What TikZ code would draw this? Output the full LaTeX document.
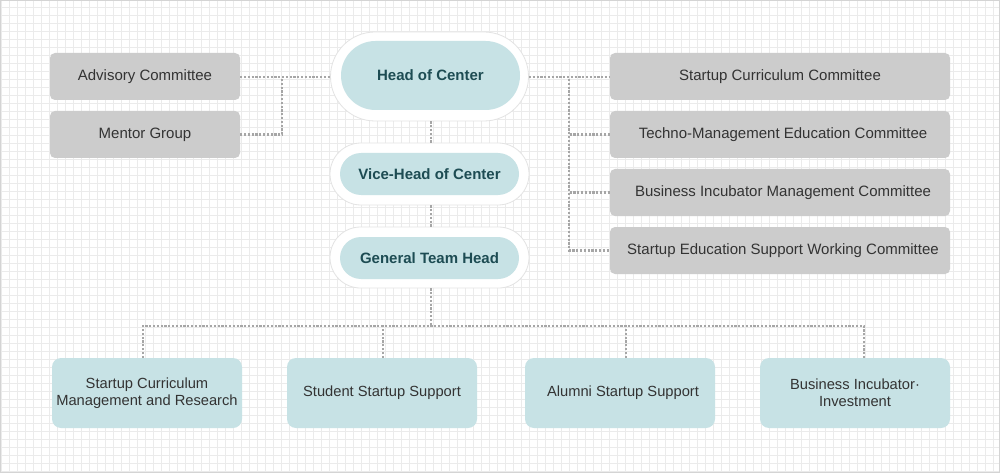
\documentclass[tikz,border=0pt]{standalone}
\usepackage{fontspec}
\setmainfont{Liberation Sans}
\usetikzlibrary{calc}
\definecolor{gridc}{HTML}{EBEBEB}
\definecolor{framec}{HTML}{D4D4D4}
\definecolor{tealfill}{HTML}{C7E2E5}
\definecolor{tealtext}{HTML}{1D4C53}
\definecolor{grayfill}{HTML}{CCCCCC}
\definecolor{graytext}{HTML}{333333}
\definecolor{pillborder}{HTML}{E3E3E3}
\definecolor{connc}{HTML}{A6A6A6}
\tikzset{
  outerpill/.style={draw=pillborder, line width=0.8pt, fill=white, inner sep=0pt},
  innerpill/.style={fill=tealfill, inner sep=0pt, text=tealtext,
    font=\fontsize{15}{18}\selectfont\bfseries},
  graybox/.style={fill=grayfill, rounded corners=5pt, inner sep=0pt,
    minimum height=47pt, text=graytext, font=\fontsize{15}{18}\selectfont},
  tealbox/.style={fill=tealfill, rounded corners=9pt, inner sep=0pt,
    minimum width=190pt, minimum height=70pt, text=graytext, align=center,
    font=\fontsize{14.7}{17}\selectfont},
  conn/.style={draw=connc, line width=2.2pt, dash pattern=on 2.2pt off 1.6pt}
}
\begin{document}
\begin{tikzpicture}[x=1pt,y=-1pt]
\useasboundingbox (0,0) rectangle (1000,473);
% background grid
\fill[white] (0,0) rectangle (1000,473);
\foreach \gx in {1,9,...,1000} \draw[gridc, line width=0.8pt] (\gx,0) -- (\gx,473);
\foreach \gy in {7.5,15.5,...,473} \draw[gridc, line width=0.8pt] (0,\gy) -- (1000,\gy);
\draw[framec, line width=1pt] (0.5,0.5) rectangle (999.5,472.5);

% central pills
\node[outerpill, minimum width=198pt, minimum height=89pt, rounded corners=44.5pt] (headO) at (429.5,76.5) {};
\node[innerpill, minimum width=179pt, minimum height=69pt, rounded corners=34.5pt] (head) at (430.5,75.5) {Head of Center};
\node[outerpill, minimum width=199pt, minimum height=62pt, rounded corners=31pt] (viceO) at (429.5,174) {};
\node[innerpill, minimum width=179pt, minimum height=42pt, rounded corners=21pt] (vice) at (429.5,174) {Vice-Head of Center};
\node[outerpill, minimum width=199pt, minimum height=61pt, rounded corners=30.5pt] (gthO) at (429.5,257.5) {};
\node[innerpill, minimum width=179pt, minimum height=42pt, rounded corners=21pt] (gth) at (429.5,258) {General Team Head};

% left boxes
\node[graybox, minimum width=190pt] (adv) at (145,76.5) {Advisory Committee};
\node[graybox, minimum width=190pt] (mentor) at (145,134.5) {Mentor Group};

% right boxes
\node[graybox, minimum width=340pt] (scc) at (780,76.5) {Startup Curriculum Committee};
\node[graybox, minimum width=340pt] (tme) at (780,134.5) {\hspace*{6pt}Techno-Management Education Committee};
\node[graybox, minimum width=340pt] (bim) at (780,192.5) {\hspace*{6pt}Business Incubator Management Committee};
\node[graybox, minimum width=340pt] (sesw) at (780,250.5) {\hspace*{6pt}Startup Education Support Working Committee};

% bottom boxes
\node[tealbox] (b1) at (147,393) {Startup Curriculum\\Management and Research};
\node[tealbox] (b2) at (382,393) {Student Startup Support};
\node[tealbox] (b3) at (620,393) {\hspace*{6pt}Alumni Startup Support};
\node[tealbox] (b4) at (855,393) {Business Incubator·\\Investment};

% connectors
\coordinate (lj) at (282,79);
\coordinate (rj) at (569,79);
\coordinate (bus) at (431,326);
\draw[conn] (adv.east |- 0,77) -- (headO.west |- 0,77);
\draw[conn] (mentor.east) -| (lj);
\draw[conn] (headO.east |- 0,77) -- (scc.west |- 0,77);
\draw[conn] (rj) |- (sesw.west);
\draw[conn] (tme.west) -- (tme.west -| rj);
\draw[conn] (bim.west) -- (bim.west -| rj);
\draw[conn] (headO.south -| 431,0) -- (viceO.north -| 431,0);
\draw[conn] (viceO.south -| 431,0) -- (gthO.north -| 431,0);
\draw[conn] (gthO.south -| 431,0) -- ([yshift=-1pt]bus);
\draw[conn] ([xshift=-4pt]b1.north) |- ([xshift=9pt]b4.north |- bus) -- ([xshift=9pt]b4.north);
\draw[conn] ([xshift=1pt]b2.north) -- ([xshift=1pt,yshift=1pt]b2.north |- bus);
\draw[conn] ([xshift=6pt]b3.north) -- ([xshift=6pt,yshift=1pt]b3.north |- bus);
\end{tikzpicture}
\end{document}
